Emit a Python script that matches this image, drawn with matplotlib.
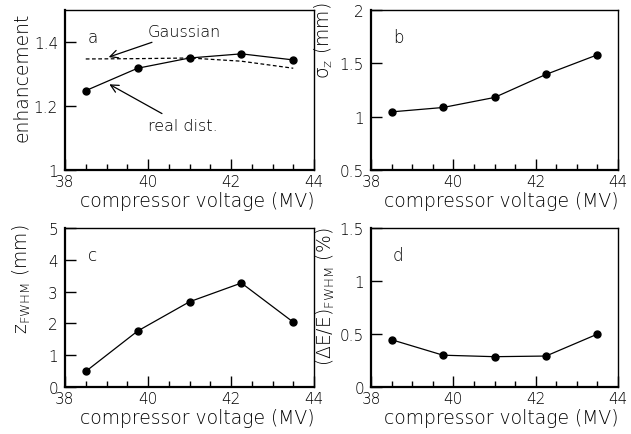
import matplotlib
matplotlib.use("Agg")
import matplotlib.pyplot as plt
from matplotlib.ticker import MultipleLocator

plt.rcParams['font.family'] = ['DejaVu Sans']
plt.rcParams['font.weight'] = 'light'
plt.rcParams['axes.labelweight'] = 'light'
plt.rcParams['mathtext.fontset'] = 'custom'
plt.rcParams['mathtext.rm'] = 'DejaVu Sans:light'
plt.rcParams['mathtext.it'] = 'DejaVu Sans:light'

voltage = [38.5, 39.75, 41.0, 42.25, 43.5]
enh_real = [1.248, 1.318, 1.350, 1.363, 1.344]
enh_gauss = [1.347, 1.348, 1.350, 1.340, 1.318]
sigma_z = [1.045, 1.086, 1.180, 1.396, 1.580]
z_fwhm = [0.49, 1.76, 2.68, 3.27, 2.04]
de_fwhm = [0.446, 0.300, 0.286, 0.292, 0.499]

fig = plt.figure(figsize=(6.31, 4.35), dpi=100)
W, H = 631, 435

def make_ax(l, r, t, b):
    return fig.add_axes([l / W, (H - b) / H, (r - l) / W, (b - t) / H])

axa = make_ax(65, 314, 11, 171)
axb = make_ax(371, 618, 11, 171)
axc = make_ax(65, 314, 229, 388)
axd = make_ax(371, 618, 229, 388)

ylims = {axa: (1, 1.5), axb: (0.5, 2), axc: (0, 5), axd: (0, 1.5)}
ysteps = {axa: 0.2, axb: 0.5, axc: 1, axd: 0.5}

for ax in [axa, axb, axc, axd]:
    ax.set_xlim(38, 44)
    ax.set_ylim(*ylims[ax])
    ax.xaxis.set_major_locator(MultipleLocator(2))
    ax.xaxis.set_minor_locator(MultipleLocator(0.5))
    ax.yaxis.set_major_locator(MultipleLocator(ysteps[ax]))
    ax.tick_params(axis='both', which='major', direction='in', length=8, width=1,
                   labelsize=11, top=False, right=False)
    ax.tick_params(axis='x', which='minor', direction='in', length=4, width=1, top=False)
    ax.tick_params(axis='y', which='minor', left=False, right=False)
    ax.tick_params(axis='x', pad=3)
    ax.tick_params(axis='y', pad=5)
    for s in ['left', 'bottom']:
        ax.spines[s].set_linewidth(1.6)
    for s in ['top', 'right']:
        ax.spines[s].set_linewidth(1.0)
    ax.set_xlabel('compressor voltage (MV)', fontsize=13.5, loc='right', labelpad=1)

lk = dict(color='black', lw=0.9, marker='o', ms=5)
axa.plot(voltage, enh_real, **lk)
axa.plot(voltage, enh_gauss, color='black', lw=0.9, ls=(0, (3, 2)))
axb.plot(voltage, sigma_z, **lk)
axc.plot(voltage, z_fwhm, **lk)
axd.plot(voltage, de_fwhm, **lk)

axa.set_yticks([1, 1.2, 1.4])
axa.set_yticklabels(['1', '1.2', '1.4'])
axb.set_yticks([0.5, 1, 1.5, 2])
axb.set_yticklabels(['0.5', '1', '1.5', '2'])
axd.set_yticks([0, 0.5, 1, 1.5])
axd.set_yticklabels(['0', '0.5', '1', '1.5'])

axa.set_ylabel('enhancement', fontsize=13.5, loc='top')
axa.yaxis.set_label_coords(-0.135, 0.99)
axb.set_ylabel(r'$\sigma_{\mathregular{z}}$ (mm)', fontsize=13.5, loc='top')
axb.yaxis.set_label_coords(-0.146, 1.05)
axc.set_ylabel(r'$\mathregular{z_{FWHM}}$ (mm)', fontsize=13.5, loc='top')
axc.yaxis.set_label_coords(-0.128, 1.025)
axd.set_ylabel(r'$\mathregular{(\Delta E/E)_{FWHM}}$ (%)', fontsize=13.5, loc='top')
axd.yaxis.set_label_coords(-0.138, 1.006)

for ax, lab in zip([axa, axb, axc, axd], 'abcd'):
    ax.text(0.11, 0.83, lab, transform=ax.transAxes, fontsize=12,
            ha='center', va='center')

ap = dict(arrowstyle='->', color='black', lw=0.9, mutation_scale=14)
axa.annotate('Gaussian', xy=(38.99, 1.350), xytext=(40.0, 1.434),
             fontsize=11.5, ha='left', va='center', arrowprops=ap)
axa.annotate('real dist.', xy=(39.01, 1.272), xytext=(40.0, 1.140),
             fontsize=11.5, ha='left', va='center', arrowprops=ap)

fig.savefig('out.png', dpi=100)
